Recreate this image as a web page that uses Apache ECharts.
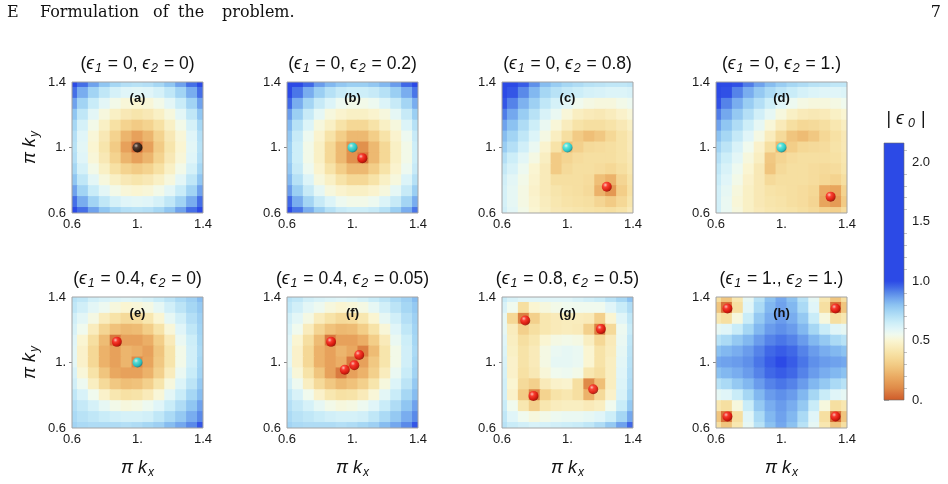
<!DOCTYPE html>
<html><head><meta charset="utf-8">
<script src="https://cdn.jsdelivr.net/npm/echarts@6/dist/echarts.min.js"></script>
<style>html,body{margin:0;padding:0;background:#fff}#c{width:948px;height:484px}</style>
</head><body><div id="c"></div>
<script>
// grid of sampled positions (pi*k), same for kx and ky
const K = [0.6, 0.6667, 0.7333, 0.8, 0.8667, 0.9333, 1, 1.0667, 1.1333, 1.2, 1.2667, 1.3333, 1.4];

// |eps0| fields, rows from ky = 1.4 (top) down to ky = 0.6, columns kx = 0.6 .. 1.4
const fieldA = [
[1.03,0.94,0.86,0.79,0.74,0.71,0.70,0.71,0.74,0.79,0.86,0.94,1.03],
[0.94,0.84,0.75,0.68,0.63,0.60,0.59,0.60,0.63,0.68,0.75,0.84,0.94],
[0.86,0.75,0.66,0.59,0.54,0.51,0.50,0.51,0.54,0.59,0.66,0.75,0.86],
[0.79,0.68,0.59,0.52,0.47,0.43,0.41,0.43,0.47,0.52,0.59,0.68,0.79],
[0.74,0.63,0.54,0.47,0.39,0.33,0.30,0.33,0.39,0.47,0.54,0.63,0.74],
[0.71,0.60,0.51,0.43,0.33,0.23,0.17,0.23,0.33,0.43,0.51,0.60,0.71],
[0.70,0.59,0.50,0.41,0.30,0.17,0.04,0.17,0.30,0.41,0.50,0.59,0.70],
[0.71,0.60,0.51,0.43,0.33,0.23,0.17,0.23,0.33,0.43,0.51,0.60,0.71],
[0.74,0.63,0.54,0.47,0.39,0.33,0.30,0.33,0.39,0.47,0.54,0.63,0.74],
[0.79,0.68,0.59,0.52,0.47,0.43,0.41,0.43,0.47,0.52,0.59,0.68,0.79],
[0.86,0.75,0.66,0.59,0.54,0.51,0.50,0.51,0.54,0.59,0.66,0.75,0.86],
[0.94,0.84,0.75,0.68,0.63,0.60,0.59,0.60,0.63,0.68,0.75,0.84,0.94],
[1.03,0.94,0.86,0.79,0.74,0.71,0.70,0.71,0.74,0.79,0.86,0.94,1.03]];
const fieldB = [
[1.10,1.03,0.95,0.87,0.82,0.785,0.765,0.765,0.785,0.82,0.87,0.95,1.03],
[1.03,0.93,0.84,0.765,0.705,0.665,0.65,0.65,0.665,0.705,0.765,0.84,0.93],
[0.95,0.84,0.745,0.665,0.61,0.56,0.54,0.54,0.56,0.61,0.665,0.745,0.84],
[0.87,0.765,0.665,0.585,0.52,0.49,0.47,0.47,0.49,0.52,0.585,0.665,0.765],
[0.82,0.705,0.61,0.52,0.47,0.40,0.35,0.35,0.40,0.47,0.52,0.61,0.705],
[0.785,0.665,0.56,0.49,0.40,0.31,0.24,0.24,0.31,0.40,0.49,0.56,0.665],
[0.765,0.65,0.54,0.47,0.35,0.24,0.12,0.12,0.24,0.35,0.47,0.54,0.65],
[0.765,0.65,0.54,0.47,0.35,0.24,0.12,0.06,0.24,0.35,0.47,0.54,0.65],
[0.785,0.665,0.56,0.49,0.40,0.31,0.24,0.24,0.31,0.40,0.49,0.56,0.665],
[0.82,0.705,0.61,0.52,0.47,0.40,0.35,0.35,0.40,0.47,0.52,0.61,0.705],
[0.87,0.765,0.665,0.585,0.52,0.49,0.47,0.47,0.49,0.52,0.585,0.665,0.765],
[0.95,0.84,0.745,0.665,0.61,0.56,0.54,0.54,0.56,0.61,0.665,0.745,0.84],
[1.03,0.93,0.84,0.765,0.705,0.665,0.65,0.65,0.665,0.705,0.765,0.84,0.93]];
const fieldC = [
[1.14,1.06,0.97,0.89,0.81,0.77,0.74,0.72,0.70,0.69,0.68,0.68,0.69],
[1.06,0.98,0.90,0.82,0.74,0.70,0.67,0.65,0.63,0.62,0.61,0.61,0.62],
[0.98,0.91,0.83,0.76,0.68,0.63,0.59,0.55,0.53,0.52,0.52,0.54,0.56],
[0.92,0.85,0.77,0.70,0.62,0.57,0.51,0.46,0.44,0.43,0.45,0.48,0.51],
[0.86,0.80,0.72,0.65,0.57,0.51,0.45,0.40,0.38,0.38,0.40,0.43,0.47],
[0.81,0.75,0.68,0.61,0.53,0.46,0.38,0.30,0.26,0.29,0.35,0.40,0.44],
[0.77,0.71,0.64,0.57,0.49,0.40,0.26,0.32,0.36,0.37,0.38,0.40,0.44],
[0.71,0.65,0.59,0.53,0.46,0.30,0.34,0.37,0.38,0.38,0.38,0.40,0.43],
[0.67,0.62,0.56,0.50,0.44,0.30,0.36,0.38,0.38,0.37,0.35,0.38,0.42],
[0.64,0.59,0.54,0.49,0.44,0.38,0.38,0.38,0.37,0.26,0.22,0.34,0.40],
[0.63,0.58,0.53,0.48,0.44,0.41,0.39,0.38,0.36,0.22,0.14,0.31,0.39],
[0.63,0.58,0.53,0.49,0.45,0.42,0.40,0.39,0.38,0.34,0.30,0.35,0.41],
[0.64,0.59,0.54,0.50,0.46,0.43,0.42,0.41,0.40,0.39,0.38,0.40,0.44]];
const fieldD = [
[1.16,1.07,0.99,0.92,0.86,0.81,0.77,0.74,0.72,0.70,0.69,0.68,0.68],
[1.07,0.99,0.91,0.84,0.78,0.73,0.69,0.66,0.63,0.61,0.60,0.60,0.61],
[0.99,0.91,0.84,0.77,0.71,0.65,0.60,0.56,0.53,0.52,0.52,0.53,0.55],
[0.92,0.85,0.78,0.71,0.64,0.58,0.52,0.47,0.44,0.43,0.44,0.47,0.50],
[0.86,0.79,0.72,0.65,0.58,0.51,0.44,0.38,0.35,0.36,0.38,0.42,0.46],
[0.80,0.74,0.67,0.60,0.53,0.45,0.36,0.28,0.25,0.29,0.35,0.39,0.43],
[0.75,0.69,0.62,0.55,0.48,0.38,0.24,0.31,0.35,0.36,0.37,0.40,0.43],
[0.71,0.65,0.59,0.52,0.46,0.29,0.34,0.37,0.38,0.38,0.38,0.39,0.42],
[0.68,0.62,0.56,0.50,0.43,0.28,0.36,0.38,0.38,0.37,0.36,0.37,0.41],
[0.66,0.60,0.54,0.48,0.43,0.36,0.38,0.38,0.38,0.37,0.35,0.33,0.38],
[0.64,0.58,0.52,0.47,0.43,0.40,0.39,0.38,0.37,0.35,0.20,0.18,0.33],
[0.64,0.57,0.51,0.47,0.43,0.41,0.40,0.38,0.37,0.34,0.18,0.15,0.30],
[0.64,0.57,0.52,0.47,0.44,0.42,0.41,0.40,0.38,0.36,0.33,0.32,0.37]];
const fieldE = [
[0.70,0.68,0.64,0.62,0.61,0.60,0.61,0.63,0.66,0.69,0.73,0.76,0.81],
[0.68,0.64,0.59,0.56,0.52,0.50,0.51,0.53,0.58,0.64,0.69,0.74,0.78],
[0.64,0.59,0.53,0.45,0.40,0.36,0.37,0.42,0.50,0.58,0.64,0.71,0.76],
[0.62,0.55,0.45,0.34,0.27,0.24,0.25,0.31,0.40,0.51,0.60,0.68,0.75],
[0.60,0.50,0.38,0.25,0.06,0.17,0.17,0.21,0.31,0.44,0.57,0.65,0.74],
[0.59,0.48,0.35,0.22,0.17,0.23,0.21,0.17,0.28,0.41,0.54,0.64,0.73],
[0.59,0.48,0.35,0.22,0.17,0.23,0.10,0.18,0.29,0.41,0.54,0.64,0.74],
[0.62,0.51,0.40,0.28,0.19,0.17,0.17,0.22,0.32,0.45,0.57,0.66,0.75],
[0.64,0.56,0.46,0.36,0.29,0.26,0.27,0.32,0.41,0.52,0.61,0.69,0.78],
[0.68,0.62,0.55,0.48,0.42,0.39,0.40,0.44,0.51,0.59,0.66,0.74,0.81],
[0.71,0.67,0.63,0.58,0.54,0.52,0.53,0.56,0.60,0.66,0.72,0.79,0.86],
[0.73,0.70,0.68,0.66,0.64,0.63,0.63,0.64,0.68,0.73,0.78,0.84,0.90],
[0.75,0.73,0.72,0.72,0.72,0.71,0.72,0.74,0.76,0.81,0.85,0.90,0.98]];
const fieldF = [
[0.70,0.68,0.64,0.62,0.61,0.60,0.61,0.63,0.66,0.69,0.73,0.76,0.81],
[0.68,0.64,0.59,0.56,0.52,0.50,0.51,0.53,0.58,0.64,0.69,0.74,0.78],
[0.64,0.59,0.53,0.45,0.40,0.36,0.37,0.42,0.50,0.58,0.64,0.71,0.76],
[0.62,0.55,0.45,0.34,0.27,0.24,0.25,0.31,0.40,0.51,0.60,0.68,0.75],
[0.60,0.50,0.38,0.25,0.06,0.17,0.17,0.21,0.31,0.44,0.57,0.65,0.74],
[0.59,0.48,0.35,0.22,0.17,0.23,0.19,0.08,0.25,0.41,0.54,0.64,0.73],
[0.59,0.48,0.35,0.22,0.17,0.21,0.06,0.17,0.29,0.41,0.54,0.64,0.74],
[0.62,0.51,0.40,0.28,0.17,0.07,0.17,0.22,0.32,0.45,0.57,0.66,0.75],
[0.64,0.56,0.46,0.36,0.29,0.24,0.27,0.32,0.41,0.52,0.61,0.69,0.78],
[0.68,0.62,0.55,0.48,0.42,0.39,0.40,0.44,0.51,0.59,0.66,0.74,0.81],
[0.71,0.67,0.63,0.58,0.54,0.52,0.53,0.56,0.60,0.66,0.72,0.79,0.86],
[0.73,0.70,0.68,0.66,0.64,0.63,0.63,0.64,0.68,0.73,0.78,0.84,0.90],
[0.75,0.73,0.72,0.72,0.72,0.71,0.72,0.74,0.76,0.81,0.85,0.90,0.98]];
const fieldG = [
[0.66,0.62,0.60,0.60,0.60,0.60,0.60,0.62,0.64,0.66,0.70,0.74,0.80],
[0.62,0.55,0.38,0.50,0.52,0.54,0.55,0.55,0.55,0.55,0.60,0.66,0.72],
[0.58,0.35,0.08,0.32,0.42,0.44,0.45,0.45,0.44,0.32,0.50,0.60,0.68],
[0.58,0.45,0.32,0.38,0.42,0.44,0.45,0.44,0.32,0.08,0.36,0.56,0.66],
[0.60,0.46,0.38,0.42,0.50,0.53,0.54,0.53,0.46,0.35,0.44,0.57,0.68],
[0.61,0.47,0.40,0.44,0.53,0.57,0.58,0.57,0.50,0.40,0.45,0.58,0.69],
[0.62,0.48,0.40,0.44,0.53,0.58,0.58,0.57,0.50,0.40,0.46,0.59,0.70],
[0.63,0.48,0.39,0.43,0.51,0.55,0.56,0.54,0.42,0.38,0.46,0.60,0.71],
[0.64,0.50,0.36,0.32,0.44,0.48,0.49,0.38,0.10,0.26,0.46,0.61,0.72],
[0.64,0.48,0.30,0.08,0.33,0.40,0.42,0.38,0.22,0.36,0.48,0.62,0.74],
[0.66,0.55,0.42,0.32,0.42,0.45,0.46,0.46,0.44,0.46,0.55,0.66,0.78],
[0.68,0.60,0.55,0.52,0.54,0.56,0.57,0.57,0.58,0.60,0.65,0.74,0.85],
[0.70,0.66,0.64,0.62,0.63,0.64,0.65,0.66,0.68,0.72,0.78,0.86,0.95]];
const fieldH = [
[0.38,0.28,0.42,0.58,0.70,0.80,0.85,0.80,0.70,0.58,0.42,0.28,0.38],
[0.28,0.05,0.38,0.60,0.73,0.82,0.86,0.82,0.73,0.60,0.38,0.05,0.28],
[0.42,0.38,0.52,0.66,0.78,0.84,0.87,0.84,0.78,0.66,0.52,0.38,0.42],
[0.58,0.60,0.66,0.74,0.82,0.87,0.89,0.87,0.82,0.74,0.66,0.60,0.58],
[0.70,0.73,0.78,0.82,0.87,0.91,0.93,0.91,0.87,0.82,0.78,0.73,0.70],
[0.80,0.82,0.84,0.87,0.91,0.95,0.97,0.95,0.91,0.87,0.84,0.82,0.80],
[0.85,0.86,0.87,0.89,0.93,0.97,1.00,0.97,0.93,0.89,0.87,0.86,0.85],
[0.80,0.82,0.84,0.87,0.91,0.95,0.97,0.95,0.91,0.87,0.84,0.82,0.80],
[0.70,0.73,0.78,0.82,0.87,0.91,0.93,0.91,0.87,0.82,0.78,0.73,0.70],
[0.58,0.60,0.66,0.74,0.82,0.87,0.89,0.87,0.82,0.74,0.66,0.60,0.58],
[0.42,0.38,0.52,0.66,0.78,0.84,0.87,0.84,0.78,0.66,0.52,0.38,0.42],
[0.28,0.05,0.38,0.60,0.73,0.82,0.86,0.82,0.73,0.60,0.38,0.05,0.28],
[0.38,0.28,0.42,0.58,0.70,0.80,0.85,0.80,0.70,0.58,0.42,0.28,0.38]];

// panel parameters
const panelLetters = ['a','b','c','d','e','f','g','h'];
const eps1 = ['0','0','0','0','0.4','0.4','0.8','1.'];
const eps2 = ['0','0.2','0.8','1.','0','0.05','0.5','1.'];

// marked points: [panel, pi*kx, pi*ky]
const blackDots = [[0,1.0,1.0]];
const cyanDots = [[1,1.0,1.0],[2,1.0,1.0],[3,1.0,1.0],[4,1.0,1.0]];
const redDots = [[1,1.06,0.935],[2,1.24,0.76],[3,1.30,0.70],[4,0.874,1.126],
  [5,0.869,1.126],[5,1.041,1.046],[5,1.011,0.983],[5,0.953,0.956],
  [6,0.742,1.257],[6,1.204,1.204],[6,0.792,0.796],[6,1.157,0.837],
  [7,0.67,0.67],[7,0.67,1.33],[7,1.33,0.67],[7,1.33,1.33]];

// tick labels
const axisTickValues = [0.6, 1, 1.4];
const axisTickLabels = ['0.6', '1.', '1.4'];
const cbTickValues = [0, 0.5, 1, 1.5, 2];
const cbTickLabels = ['0.', '0.5', '1.0', '1.5', '2.0'];
const cbMax = 2.16;

// header words
const headerWords = [['E', 7], ['Formulation', 40], ['of', 153], ['the', 178], ['problem.', 222]];
const pageNumber = '7';

const FIELDS = [fieldA, fieldB, fieldC, fieldD, fieldE, fieldF, fieldG, fieldH];
const FONT = '"Liberation Sans", Arial, "DejaVu Sans", sans-serif';
const SERIF = '"DejaVu Serif", "Liberation Serif", serif';
const PL = [72, 287, 502, 716], PT = [82, 297], PS = 131;
const COLORS = ['#cf5b27','#d7713a','#df8a48','#e59b55','#eaab63','#eebc74','#f2cb85','#f5d896','#f7e3a8','#f9ecbd',
  '#faf5d2','#f0faee','#e0f5f8','#cdeef8','#b8e2f6','#a2d4f4','#8cc2f1','#74a8ee','#5a8ae9','#4068e7','#2c4ae6'];
const HALF = (K[1] - K[0]) / 2;

function renderCell(params, api) {
  const x = api.value(0), y = api.value(1);
  const a = api.coord([x - HALF, y + HALF]);
  const b = api.coord([x + HALF, y - HALF]);
  const cs = params.coordSys;
  const shape = echarts.graphic.clipRectByRect(
    {x: a[0] - 0.5, y: a[1] - 0.5, width: b[0] - a[0] + 1, height: b[1] - a[1] + 1},
    {x: cs.x, y: cs.y, width: cs.width, height: cs.height});
  if (!shape) return;
  return {type: 'rect', shape: shape, style: {fill: api.visual('color')}};
}
function sphere(c0, c1, c2, c3) {
  return {type: 'radial', x: 0.36, y: 0.32, r: 0.72, colorStops: [
    {offset: 0, color: c0}, {offset: 0.3, color: c1}, {offset: 0.75, color: c2}, {offset: 1, color: c3}]};
}
const RED = sphere('#ffd0d0', '#ff2a2a', '#d20000', '#7e0000');
const CYAN = sphere('#eaffff', '#30f0f8', '#00c4d4', '#00727e');
const BLACK = sphere('#c8c8c8', '#333333', '#0a0a0a', '#000000');

const grids = [], xAxes = [], yAxes = [], series = [], customIdx = [], graphics = [];
const titleRich = {
  n: {fontSize: 17.5, fontFamily: FONT, fill: '#111'},
  e: {fontSize: 17.5, fontFamily: FONT, fontStyle: 'italic', fill: '#111'},
  s: {fontSize: 12.5, fontFamily: FONT, fontStyle: 'italic', fill: '#111', padding: [9, 1, 0, 1]}
};
const nameRich = {
  i: {fontSize: 18, fontFamily: FONT, fontStyle: 'italic', fill: '#111'},
  s: {fontSize: 12, fontFamily: FONT, fontStyle: 'italic', fill: '#111', padding: [10, 0, 0, 1]}
};
function txt(x, y, text, extra) {
  return {type: 'text', x: x, y: y, z: 50, style: Object.assign({
    text: text, align: 'center', verticalAlign: 'middle', textAlign: 'center', textVerticalAlign: 'middle',
    fontFamily: FONT, fill: '#111'}, extra || {})};
}

FIELDS.forEach((field, p) => {
  const left = PL[p % 4], top = PT[p >> 2];
  grids.push({left: left, top: top, width: PS, height: PS, show: true, borderColor: '#a4a4a4', borderWidth: 1,
    backgroundColor: 'transparent', z: 10, containLabel: false});
  xAxes.push({gridIndex: p, type: 'value', min: 0.6, max: 1.4,
    axisLine: {show: false}, splitLine: {show: false},
    axisTick: {show: true, inside: true, length: 3, customValues: [1], lineStyle: {color: '#888'}},
    axisLabel: {customValues: axisTickValues, formatter: v => axisTickLabels[axisTickValues.indexOf(v)],
      fontSize: 13, fontFamily: FONT, color: '#1a1a1a', margin: 5}});
  yAxes.push({gridIndex: p, type: 'value', min: 0.6, max: 1.4,
    axisLine: {show: false}, splitLine: {show: false},
    axisTick: {show: true, inside: false, length: 3, customValues: [1], lineStyle: {color: '#888'}},
    axisLabel: {customValues: axisTickValues, formatter: v => axisTickLabels[axisTickValues.indexOf(v)],
      fontSize: 13, fontFamily: FONT, color: '#1a1a1a', margin: 6}});
  const cells = [];
  field.forEach((row, r) => row.forEach((v, c) => cells.push([K[c], K[K.length - 1 - r], v])));
  customIdx.push(series.length);
  series.push({type: 'custom', xAxisIndex: p, yAxisIndex: p, data: cells, renderItem: renderCell,
    encode: {x: 0, y: 1}, silent: true, z: 2});
  [[blackDots, BLACK], [cyanDots, CYAN], [redDots, RED]].forEach(([list, col]) => {
    const pts = list.filter(d => d[0] === p).map(d => [d[1], d[2]]);
    if (pts.length) series.push({type: 'scatter', xAxisIndex: p, yAxisIndex: p, data: pts, symbolSize: 10,
      itemStyle: {color: col}, silent: true, z: 20});
  });
  graphics.push(txt(left + PS / 2, top - 18,
    '{n|(}{e|\u03f5}{s|1}{n| = ' + eps1[p] + ', }{e|\u03f5}{s|2}{n| = ' + eps2[p] + ')}', {rich: titleRich}));
  graphics.push(txt(left + PS / 2, top + 16.5, '(' + panelLetters[p] + ')', {fontSize: 13, fontWeight: 'bold'}));
  if (p % 4 === 0) graphics.push(Object.assign(txt(30, top + PS / 2, '{i|\u03c0 k}{s|y}', {rich: nameRich}), {rotation: Math.PI / 2}));
  if (p >= 4) graphics.push(txt(left + PS / 2, 468, '{i|\u03c0 k}{s|x}', {rich: nameRich}));
});

// colour bar
const CB = {x: 884, y: 143, w: 20, h: 257};
grids.push({left: CB.x, top: CB.y, width: CB.w, height: CB.h, show: false});
xAxes.push({gridIndex: 8, type: 'value', show: false, min: 0, max: 1});
yAxes.push({gridIndex: 8, type: 'value', min: 0, max: cbMax, position: 'right',
  axisLine: {show: false}, splitLine: {show: false},
  axisTick: {show: true, length: 5, customValues: cbTickValues, lineStyle: {color: '#b0b0b0'}},
  axisLabel: {customValues: cbTickValues, formatter: v => cbTickLabels[cbTickValues.indexOf(v)],
    fontSize: 13, fontFamily: FONT, color: '#1a1a1a', margin: 8}});
const minor = [];
for (let i = 1; i <= 21; i++) if (i % 5) minor.push(i / 10);
yAxes.push({gridIndex: 8, type: 'value', min: 0, max: cbMax, position: 'right',
  axisLine: {show: false}, splitLine: {show: false}, axisLabel: {show: false},
  axisTick: {show: true, length: 3, customValues: minor, lineStyle: {color: '#c4c4c4'}}});
const stops = COLORS.map((c, i) => ({offset: (i / (COLORS.length - 1)) / cbMax, color: c}));
stops.push({offset: 1, color: COLORS[COLORS.length - 1]});
graphics.push({type: 'rect', z: 5, shape: {x: CB.x, y: CB.y, width: CB.w, height: CB.h},
  style: {fill: new echarts.graphic.LinearGradient(0, 1, 0, 0, stops), stroke: '#6a6a6a', lineWidth: 0.6}});
graphics.push(txt(906, 119, '{n||}{e| \u03f5}{s| 0}{n| |}', {rich: titleRich}));

// page header
headerWords.forEach(([w, x]) => graphics.push(txt(x, 13, w, {align: 'left', textAlign: 'left', fontSize: 16, fontFamily: SERIF})));
graphics.push(txt(941, 13, pageNumber, {align: 'right', textAlign: 'right', fontSize: 16, fontFamily: SERIF}));

const chart = echarts.init(document.getElementById('c'), null, {renderer: 'canvas'});
chart.setOption({
  animation: false,
  backgroundColor: '#ffffff',
  grid: grids, xAxis: xAxes, yAxis: yAxes,
  visualMap: {type: 'continuous', show: false, min: 0, max: 1, dimension: 2, seriesIndex: customIdx,
    inRange: {color: COLORS}},
  series: series,
  graphic: {elements: graphics}
});
</script></body></html>
